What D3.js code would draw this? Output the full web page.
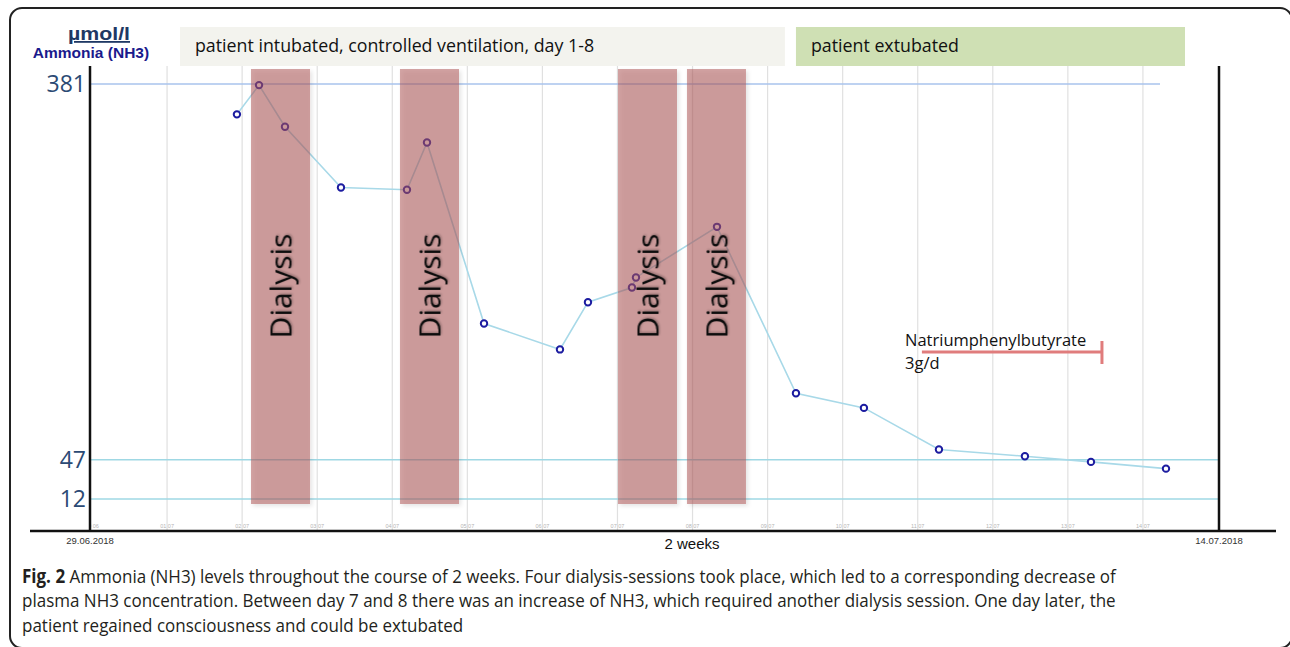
<!DOCTYPE html>
<html>
<head>
<meta charset="utf-8">
<script src="https://cdn.jsdelivr.net/npm/d3@7"></script>
<style>
  body { margin: 0; background: #fff; }
  svg { display: block; }
</style>
</head>
<body>
<div id="chart"></div>
<script>
// NH3 measurements (date, µmol/l)
const measureTimes = [
    "01.07.2018 22:20", "02.07.2018 05:24", "02.07.2018 13:42", "03.07.2018 07:36",
    "04.07.2018 04:42", "04.07.2018 11:06", "05.07.2018 05:20", "06.07.2018 05:37",
    "06.07.2018 14:34", "07.07.2018 04:38", "07.07.2018 05:55", "08.07.2018 07:49",
    "09.07.2018 09:04", "10.07.2018 06:48", "11.07.2018 06:47", "12.07.2018 10:16",
    "13.07.2018 07:23", "14.07.2018 07:22"
];
const nh3Values = [354, 380, 343, 289, 287, 329, 168, 145, 187, 200, 209, 254, 106, 93, 56, 50, 45, 39];

// dialysis sessions
const dialysisStart = ["02.07.2018 02:50", "04.07.2018 02:28", "07.07.2018 00:10", "07.07.2018 22:13"];
const dialysisEnd   = ["02.07.2018 21:42", "04.07.2018 21:20", "07.07.2018 19:02", "08.07.2018 17:05"];

// phases shown above the chart
const phaseLabels = ["patient intubated, controlled ventilation, day 1-8", "patient extubated"];
const phaseStart  = ["01.07.2018 04:08", "09.07.2018 09:04"];
const phaseEnd    = ["09.07.2018 05:32", "14.07.2018 13:27"];
const phaseColors = ["#f3f3ee", "#cfe0b4"];

// medication
const medLabel = ["Natriumphenylbutyrate", "3g/d"];
const medStart = "11.07.2018 01:20";
const medEnd   = "13.07.2018 10:54";

const yTickValues = [381, 47, 12];
const axisStart = "30.06.2018 00:00";
const axisEnd   = "15.07.2018 00:00";
const dateLabels = ["29.06.2018", "14.07.2018"];

const captionLines = [
    ["Fig. 2", " Ammonia (NH3) levels throughout the course of 2 weeks. Four dialysis-sessions took place, which led to a corresponding decrease of"],
    ["", "plasma NH3 concentration. Between day 7 and 8 there was an increase of NH3, which required another dialysis session. One day later, the"],
    ["", "patient regained consciousness and could be extubated"]
];

const parseTime = d3.timeParse("%d.%m.%Y %H:%M");

class AmmoniaChart {
    constructor(_parentElement) {
        this.parentElement = _parentElement;
        this.data = measureTimes.map((t, i) => ({ date: parseTime(t), value: nh3Values[i] }));
        this.initVis();
    }

    initVis() {
        let vis = this;

        vis.W = 1290;
        vis.H = 647;
        vis.top = 66;
        vis.bottom = 531;

        vis.svg = d3.select("#" + vis.parentElement).append("svg")
            .attr("width", vis.W)
            .attr("height", vis.H);

        let defs = vis.svg.append("defs");
        defs.append("filter").attr("id", "bandShadow")
            .attr("x", "-20%").attr("y", "-5%").attr("width", "140%").attr("height", "110%")
            .append("feDropShadow")
            .attr("dx", 2).attr("dy", 2).attr("stdDeviation", 2)
            .attr("flood-color", "#000").attr("flood-opacity", 0.2);
        defs.append("filter").attr("id", "textShadow")
            .append("feDropShadow")
            .attr("dx", 1).attr("dy", 1).attr("stdDeviation", 1)
            .attr("flood-color", "#000").attr("flood-opacity", 0.3);
        defs.append("clipPath").attr("id", "plotClip")
            .append("rect").attr("x", 91).attr("y", 0).attr("width", 1128).attr("height", vis.H);

        // Scales
        vis.x = d3.scaleTime()
            .domain([parseTime(axisStart), parseTime(axisEnd)])
            .range([92, 1218]);

        vis.y = d3.scaleLinear()
            .domain([12, 381])
            .range([499, 84]);

        vis.wrangleData();
    }

    wrangleData() {
        let vis = this;
        vis.days = d3.timeDay.range(parseTime(axisStart), parseTime(axisEnd));
        vis.updateVis();
    }

    updateVis() {
        let vis = this;

        // outer frame
        vis.svg.append("rect")
            .attr("x", 10).attr("y", 8)
            .attr("width", 1282).attr("height", 640)
            .attr("rx", 12)
            .attr("fill", "none")
            .attr("stroke", "#222")
            .attr("stroke-width", 2);

        // phase boxes
        let phases = vis.svg.selectAll(".phase")
            .data(phaseLabels)
            .enter().append("g")
            .attr("class", "phase");

        phases.append("rect")
            .attr("x", (d, i) => vis.x(parseTime(phaseStart[i])))
            .attr("y", 27)
            .attr("width", (d, i) => vis.x(parseTime(phaseEnd[i])) - vis.x(parseTime(phaseStart[i])))
            .attr("height", 39)
            .attr("fill", (d, i) => phaseColors[i]);

        phases.append("text")
            .attr("x", (d, i) => vis.x(parseTime(phaseStart[i])) + 15)
            .attr("y", 52)
            .style("font-family", "'Open Sans', sans-serif")
            .style("font-size", "17.8px")
            .style("fill", "#111")
            .text(d => d);

        // day gridlines and tiny labels
        let grid = vis.svg.append("g").attr("clip-path", "url(#plotClip)");

        grid.selectAll(".grid")
            .data(vis.days.slice(1))
            .enter().append("line")
            .attr("x1", d => vis.x(d)).attr("x2", d => vis.x(d))
            .attr("y1", vis.top).attr("y2", vis.bottom)
            .attr("stroke", "#e0e0e0")
            .attr("stroke-width", 1.2);

        grid.selectAll(".dayLabel")
            .data(vis.days)
            .enter().append("text")
            .attr("x", d => vis.x(d))
            .attr("y", 528)
            .attr("text-anchor", "middle")
            .style("font-family", "Arial, sans-serif")
            .style("font-size", "5.5px")
            .style("fill", "#b5b5b5")
            .text(d => d3.timeFormat("%d.%m")(d).replace(".", " "));

        // horizontal reference lines
        vis.svg.selectAll(".refLine")
            .data(yTickValues)
            .enter().append("line")
            .attr("x1", 90)
            .attr("x2", d => d === 381 ? 1160 : 1219)
            .attr("y1", d => vis.y(d)).attr("y2", d => vis.y(d))
            .attr("stroke", d => d === 381 ? "#a9c3ec" : "#9fd8e4")
            .attr("stroke-width", 1.5);

        // NH3 line
        let line = d3.line()
            .x(d => vis.x(d.date))
            .y(d => vis.y(d.value));

        vis.svg.append("path")
            .datum(vis.data)
            .attr("d", line)
            .attr("fill", "none")
            .attr("stroke", "#a8d9e8")
            .attr("stroke-width", 1.6);

        vis.svg.selectAll(".point")
            .data(vis.data)
            .enter().append("circle")
            .attr("class", "point")
            .attr("cx", d => vis.x(d.date))
            .attr("cy", d => vis.y(d.value))
            .attr("r", 3.2)
            .attr("fill", "#fff")
            .attr("stroke", "#1c1ca0")
            .attr("stroke-width", 2);

        // dialysis bands
        let bands = vis.svg.selectAll(".dialysis")
            .data(dialysisStart)
            .enter().append("g")
            .attr("class", "dialysis");

        bands.append("rect")
            .attr("x", (d, i) => vis.x(parseTime(d)))
            .attr("y", 69)
            .attr("width", (d, i) => vis.x(parseTime(dialysisEnd[i])) - vis.x(parseTime(d)))
            .attr("height", 435)
            .attr("fill", "rgb(172, 84, 84)")
            .attr("fill-opacity", 0.53)
            .attr("filter", "url(#bandShadow)");

        bands.append("text")
            .attr("transform", (d, i) => {
                let cx = (vis.x(parseTime(d)) + vis.x(parseTime(dialysisEnd[i]))) / 2 + 11;
                return "translate(" + cx + ",286) rotate(-90)";
            })
            .attr("text-anchor", "middle")
            .style("font-family", "'Open Sans', sans-serif")
            .style("font-size", "30px")
            .style("fill", "#111")
            .attr("filter", "url(#textShadow)")
            .text("Dialysis");

        // medication bar
        let mx0 = vis.x(parseTime(medStart)), mx1 = vis.x(parseTime(medEnd));
        vis.svg.append("line")
            .attr("x1", mx0).attr("x2", mx1)
            .attr("y1", 352).attr("y2", 352)
            .attr("stroke", "#e07c7c").attr("stroke-width", 3);
        vis.svg.append("line")
            .attr("x1", mx1).attr("x2", mx1)
            .attr("y1", 341).attr("y2", 364)
            .attr("stroke", "#e07c7c").attr("stroke-width", 3);

        vis.svg.selectAll(".medLabel")
            .data(medLabel)
            .enter().append("text")
            .attr("x", 905)
            .attr("y", (d, i) => 346 + i * 23)
            .style("font-family", "'Open Sans', sans-serif")
            .style("font-size", "16.5px")
            .style("fill", "#111")
            .text(d => d);

        // axes lines
        vis.svg.append("line")
            .attr("x1", 90).attr("x2", 90).attr("y1", vis.top).attr("y2", vis.bottom)
            .attr("stroke", "#111").attr("stroke-width", 2.5);
        vis.svg.append("line")
            .attr("x1", 1219).attr("x2", 1219).attr("y1", vis.top).attr("y2", vis.bottom)
            .attr("stroke", "#111").attr("stroke-width", 2.5);
        vis.svg.append("line")
            .attr("x1", 30).attr("x2", 1276).attr("y1", vis.bottom).attr("y2", vis.bottom)
            .attr("stroke", "#111").attr("stroke-width", 2.5);

        // y tick labels
        let yAxis = d3.axisLeft(vis.y)
            .tickValues(yTickValues)
            .tickSize(0)
            .tickPadding(4);
        let yg = vis.svg.append("g")
            .attr("transform", "translate(90,0)")
            .call(yAxis);
        yg.select(".domain").remove();
        yg.selectAll("text")
            .style("font-family", "'Open Sans', sans-serif")
            .style("font-size", "23px")
            .style("fill", "#2b4a74");

        // y axis title
        vis.svg.append("text")
            .attr("x", 99).attr("y", 40)
            .attr("text-anchor", "middle")
            .attr("textLength", 62)
            .attr("lengthAdjust", "spacingAndGlyphs")
            .style("font-family", "Arial, sans-serif")
            .style("font-weight", "bold")
            .style("font-size", "18px")
            .style("text-decoration", "underline")
            .style("fill", "#1f3864")
            .text("µmol/l");
        vis.svg.append("text")
            .attr("x", 91).attr("y", 58)
            .attr("text-anchor", "middle")
            .style("font-family", "Arial, sans-serif")
            .style("font-weight", "bold")
            .style("font-size", "15.5px")
            .style("fill", "#1a1a8c")
            .text("Ammonia (NH3)");

        // date labels under axis
        vis.svg.selectAll(".dateLabel")
            .data(dateLabels)
            .enter().append("text")
            .attr("x", (d, i) => i === 0 ? 90 : 1219)
            .attr("y", 544)
            .attr("text-anchor", "middle")
            .style("font-family", "Arial, sans-serif")
            .style("font-size", "9.5px")
            .style("fill", "#333")
            .text(d => d);

        vis.svg.append("text")
            .attr("x", 692).attr("y", 549)
            .attr("text-anchor", "middle")
            .style("font-family", "Arial, sans-serif")
            .style("font-size", "15px")
            .style("fill", "#111")
            .text("2 weeks");

        // caption, squeezed horizontally with one common factor
        let capG = vis.svg.append("g");
        let cap = capG.selectAll(".caption")
            .data(captionLines)
            .enter().append("text")
            .attr("x", 0)
            .attr("y", (d, i) => 583 + i * 24.5)
            .style("font-family", "'Open Sans', sans-serif")
            .style("font-size", "19px")
            .style("fill", "#231f20");
        cap.append("tspan")
            .style("font-weight", "bold")
            .text(d => d[0]);
        cap.append("tspan")
            .text(d => d[1]);

        let w1 = cap.nodes()[0].getComputedTextLength();
        let sx = (1117 - 22) / w1;
        capG.attr("transform", "translate(22,0) scale(" + sx + ",1)");
    }
}

new AmmoniaChart("chart");
</script>
</body>
</html>
